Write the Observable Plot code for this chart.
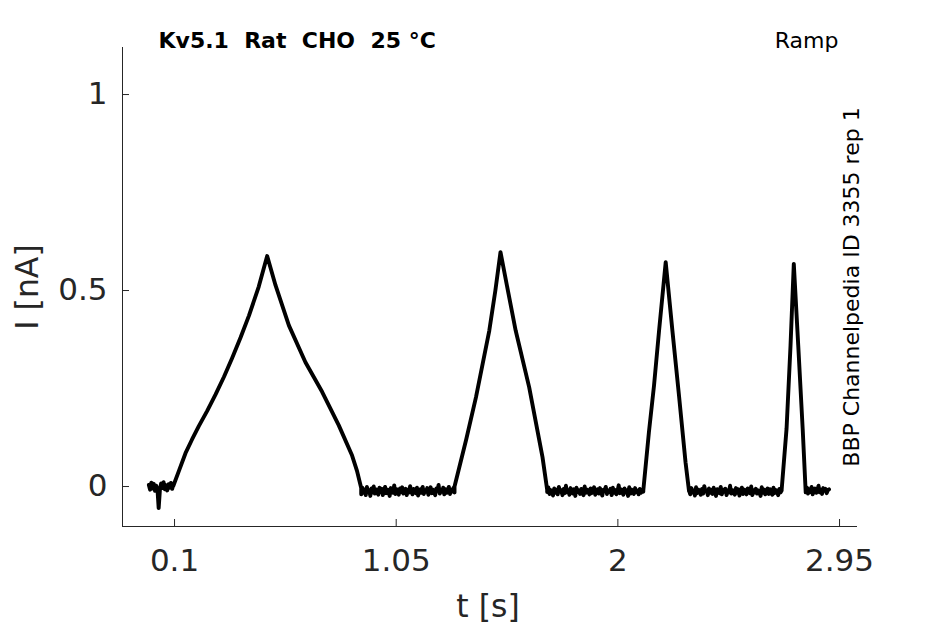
<!DOCTYPE html>
<html><head><meta charset="utf-8">
<script src="https://cdn.jsdelivr.net/npm/d3@7"></script>
<script src="https://cdn.jsdelivr.net/npm/@observablehq/plot@0.6"></script>
<style>
html,body{margin:0;padding:0;background:#fff;}
svg text{white-space:pre;}
</style></head><body><div id="chart"></div>
<script>
// ---- Labels ----
const titleText = "Kv5.1  Rat  CHO  25 °C";
const protocolText = "Ramp";
const sourceText = "BBP Channelpedia ID 3355 rep 1";
const xLabel = "t [s]";
const yLabel = "I [nA]";
const xTicks = [0.1, 1.05, 2, 2.95];
const yTicks = [0, 0.5, 1];

// ---- Ramp segments (t [s], I [nA]) ----
const ramp1T = [0.095,0.120,0.147,0.175,0.204,0.240,0.276,0.312,0.347,0.383,0.419,0.461,0.497,0.533,0.590,0.661,0.733,0.804,0.861,0.882,0.900];
const ramp1I = [0.002,0.042,0.085,0.120,0.154,0.193,0.235,0.280,0.328,0.380,0.436,0.510,0.588,0.513,0.411,0.317,0.241,0.156,0.079,0.040,-0.004];
const ramp2T = [1.300,1.350,1.392,1.449,1.475,1.497,1.530,1.562,1.620,1.677,1.697];
const ramp2I = [0.000,0.120,0.228,0.398,0.500,0.598,0.496,0.398,0.253,0.075,-0.008];
const ramp3T = [2.109,2.133,2.155,2.176,2.205,2.233,2.262,2.290,2.305];
const ramp3I = [-0.010,0.138,0.258,0.394,0.572,0.402,0.232,0.062,-0.012];
const ramp4T = [2.702,2.723,2.740,2.754,2.773,2.792,2.805];
const ramp4I = [-0.008,0.148,0.360,0.568,0.360,0.148,-0.015];

// ---- Baseline segments: [start t, end t] and readings in pA (1e-3 nA) ----
const base0Span = [-0.010, 0.095];
const base0 = [4,-8,10,-5,7,-11,2,-6,-55,-9,8,-4,11,-7,3,-10,6,-3,9,-6,5];
const base1Span = [0.900, 1.300];
const base1 = [-20,-3,-16,-8,-22,-1,-13,-9,-24,-5,-15,0,-18,-7,-12,-21,-3,-14,-6,-22,-10,-1,-17,-8,-13,-24,-4,-9,-16,3,-19,-7,-12,-21,-5,-14,-2,-18,-10,-6,-22,-8,-15,1,-12,-20,-6,-9,-17,-3,-23,-11,-7,-16,-1,-19,-9,-13,-4,-21,-10,-2,-17,-8,-14,-22,-5,-11,4,-18,-9,-13,-3,-20,-7,-16,-10,-1,-19,-8,-13,-4,-15];
const base2Span = [1.697, 2.109];
const base2 = [-14,-2,-19,-9,-12,-23,-5,-16,-8,-20,-1,-13,-10,-22,-6,-17,2,-15,-9,-21,-4,-12,-18,-7,-24,-3,-14,-10,-19,-6,-11,-22,0,-16,-8,-13,-20,-5,-17,-9,-2,-21,-12,-7,-18,-4,-15,-23,-8,-11,-1,-19,-10,-14,-6,-22,-3,-16,-9,-20,-12,3,-17,-7,-13,-21,-5,-15,-10,-24,-2,-18,-8,-12,-19,-4,-14,-11,-20,-6,-16,-9,-13];
const base3Span = [2.305, 2.702];
const base3 = [-9,-20,-4,-15,-11,-23,-2,-17,-8,-13,-21,-6,-18,1,-12,-10,-22,-5,-16,-9,-19,-3,-14,-24,-7,-11,-17,-1,-20,-8,-13,-6,-22,-10,-15,2,-18,-9,-12,-21,-4,-16,-7,-23,-11,-3,-19,-8,-14,-20,-5,-12,-17,0,-22,-9,-15,-6,-18,-10,-13,-24,-2,-16,-8,-20,-11,-5,-19,-7,-14,-21,-3,-17,-9,-12,-22,-6,-15,-10];
const base4Span = [2.805, 2.905];
const base4 = [-12,-3,-18,-7,-14,-1,-20,-9,-5,-16,-10,2,-15,-8,-19,-4,-11,-6,-17,-9,-7];

// ---- Build trace table ----
const trace = [];
function addBase(span, vals) {
  const n = vals.length;
  vals.forEach((v, i) => trace.push({t: span[0] + (span[1] - span[0]) * i / (n - 1), I: v / 1000}));
}
function addRamp(T, I) { T.forEach((t, i) => trace.push({t, I: I[i]})); }
addBase(base0Span, base0);
addRamp(ramp1T, ramp1I);
addBase(base1Span, base1);
addRamp(ramp2T, ramp2I);
addBase(base2Span, base2);
addRamp(ramp3T, ramp3I);
addBase(base3Span, base3);
addRamp(ramp4T, ramp4I);
addBase(base4Span, base4);

const xDomain = [-0.123, 3.027];
const yDomain = [-0.102, 1.12];
const ink = "#262626";

const chart = Plot.plot({
  width: 945, height: 624,
  marginLeft: 122, marginRight: 88, marginTop: 47, marginBottom: 98,
  style: {fontFamily: "DejaVu Sans", background: "white", overflow: "visible"},
  x: {domain: xDomain},
  y: {domain: yDomain},
  marks: [
    Plot.ruleX([xDomain[0]], {stroke: ink, strokeWidth: 1}),
    Plot.ruleY([yDomain[0]], {stroke: ink, strokeWidth: 1}),
    Plot.axisX(xTicks, {tickSize: -7, tickFormat: () => "", label: null, color: ink}),
    Plot.axisX(xTicks, {tickSize: 0, tickPadding: 22, fontSize: 31, tickFormat: d => String(d), label: null, color: ink}),
    Plot.axisY(yTicks, {tickSize: -7, tickFormat: () => "", label: null, color: ink}),
    Plot.axisY(yTicks, {tickSize: 0, tickPadding: 15, fontSize: 31, tickFormat: d => String(d), label: null, color: ink}),
    Plot.line(trace, {x: "t", y: "I", stroke: "black", strokeWidth: 3.9, strokeLinejoin: "round"}),
    Plot.text([titleText], {text: d => d, frameAnchor: "top-left", textAnchor: "start", lineAnchor: "bottom", dx: 36, fontSize: 22, fontWeight: "bold", fill: "black"}),
    Plot.text([protocolText], {text: d => d, frameAnchor: "top-right", textAnchor: "end", lineAnchor: "bottom", dx: -19, fontSize: 22, fill: "black"}),
    Plot.text([sourceText], {text: d => d, frameAnchor: "right", rotate: -90, textAnchor: "middle", lineAnchor: "bottom", dx: 1, fontSize: 22, fill: "black"}),
    Plot.text([xLabel], {text: d => d, frameAnchor: "bottom", lineAnchor: "bottom", dx: -2, dy: 90, fontSize: 31.5, fill: ink}),
    Plot.text([yLabel], {text: d => d, frameAnchor: "left", rotate: -90, textAnchor: "middle", lineAnchor: "middle", dx: -95, fontSize: 31.5, fill: ink})
  ]
});
document.getElementById("chart").appendChild(chart);
</script>
</body></html>
